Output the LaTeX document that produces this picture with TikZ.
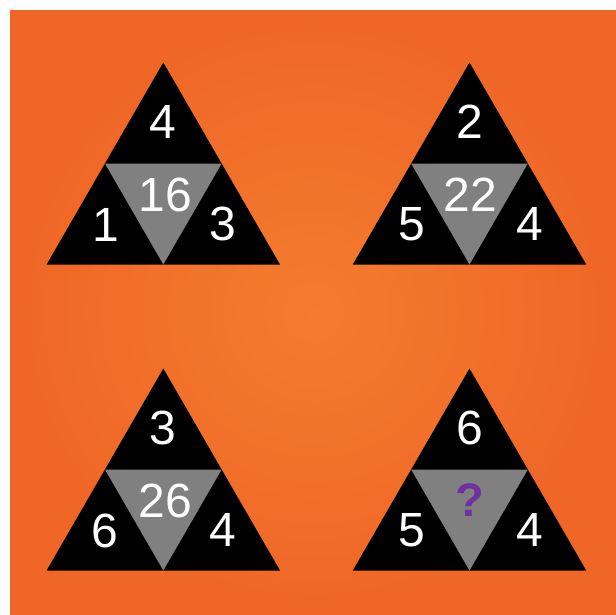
\documentclass[tikz,border=0pt]{standalone}
\usepackage{fontspec}
\setmainfont{Liberation Sans}
\usepackage{xcolor}
\usepackage{tikz}
\definecolor{orangein}{RGB}{244,124,46}
\definecolor{orangeout}{RGB}{239,102,38}
\definecolor{midgray}{RGB}{128,128,128}
\definecolor{qpurple}{RGB}{112,48,160}

\begin{document}
\begin{tikzpicture}[x=1pt, y=-1pt,
    num/.style={text=white, inner sep=0pt, font=\fontsize{48}{48}\selectfont},
    ask/.style={text=qpurple, inner sep=0pt, font=\fontsize{47}{47}\selectfont\bfseries}]
    \useasboundingbox (0,0) rectangle (616,614);
    \fill[white] (0,0) rectangle (616,614);
    \shade[inner color=orangein, outer color=orangeout] (10,10) rectangle (616,614);

    % top left
    \begin{scope}[shift={(163.3,264.5)}]
        \fill (-116.7,0) -- (116.7,0) -- (0,-202) -- cycle;
        \fill[midgray] (-58.35,-101) -- (58.35,-101) -- (0,0) -- cycle;
        \node[num] (tltop) at (0,-143) {4};
        \node[num] (tlmid) at (2,-70) {16};
        \node[num] (tlleft) at (-57,-40) {1};
        \node[num] (tlright) at (60,-41) {3};
    \end{scope}

    % top right
    \begin{scope}[shift={(469.5,264.5)}]
        \fill (-116.7,0) -- (116.7,0) -- (0,-202) -- cycle;
        \fill[midgray] (-58.35,-101) -- (58.35,-101) -- (0,0) -- cycle;
        \node[num] (trtop) at (0,-143) {2};
        \node[num] (trmid) at (1,-70) {22};
        \node[num] (trleft) at (-58,-40) {5};
        \node[num] (trright) at (60,-41) {4};
    \end{scope}

    % bottom left
    \begin{scope}[shift={(163.3,570.5)}]
        \fill (-116.7,0) -- (116.7,0) -- (0,-202) -- cycle;
        \fill[midgray] (-58.35,-101) -- (58.35,-101) -- (0,0) -- cycle;
        \node[num] (bltop) at (0,-143) {3};
        \node[num] (blmid) at (2,-70) {26};
        \node[num] (blleft) at (-58,-40) {6};
        \node[num] (blright) at (60,-41) {4};
    \end{scope}

    % bottom right
    \begin{scope}[shift={(469.5,570.5)}]
        \fill (-116.7,0) -- (116.7,0) -- (0,-202) -- cycle;
        \fill[midgray] (-58.35,-101) -- (58.35,-101) -- (0,0) -- cycle;
        \node[num] (brtop) at (0,-143) {6};
        \node[ask] (brmid) at (0,-70) {?};
        \node[num] (brleft) at (-58,-40) {5};
        \node[num] (brright) at (60,-41) {4};
    \end{scope}
\end{tikzpicture}
\end{document}
